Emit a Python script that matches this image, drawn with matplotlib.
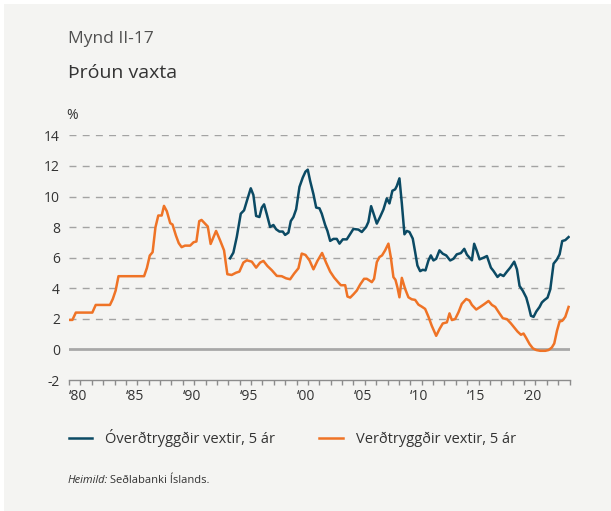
import matplotlib
matplotlib.use("Agg")
import matplotlib.pyplot as plt
from matplotlib.patches import Rectangle
from matplotlib.transforms import ScaledTranslation

plt.rcParams['font.family'] = ['Open Sans', 'DejaVu Sans']

# ---- data ----
verd_years = [1980.0, 1980.3, 1980.6, 1982.05, 1982.35, 1983.6, 1983.85, 1984.1, 1984.35, 1986.6,
              1986.85, 1987.1, 1987.35, 1987.6, 1987.85, 1988.15, 1988.35, 1988.6, 1988.9, 1989.1,
              1989.4, 1989.65, 1989.9, 1990.2, 1990.65, 1990.95, 1991.2, 1991.45, 1991.65, 1992.2,
              1992.45, 1992.93, 1993.28, 1993.63, 1993.92, 1994.3, 1994.69, 1994.98, 1995.33, 1995.63,
              1996.07, 1996.45, 1996.8, 1997.09, 1997.44, 1997.83, 1998.27, 1998.7, 1999.09, 1999.44,
              1999.79, 2000.17, 2000.46, 2000.79, 2001.14, 2001.49, 2001.84, 2002.25, 2002.6, 2002.96,
              2003.31, 2003.69, 2003.9, 2004.28, 2004.48, 2004.72, 2005.0, 2005.3, 2005.6, 2005.94,
              2006.18, 2006.41, 2006.62, 2006.82, 2007.06, 2007.29, 2007.52, 2007.79, 2008.08, 2008.29,
              2008.52, 2008.7, 2008.87, 2009.05, 2009.26, 2009.55, 2009.84, 2010.13, 2010.43, 2010.72,
              2011.01, 2011.31, 2011.6, 2011.89, 2012.28, 2012.57, 2012.86, 2013.22, 2013.45, 2013.66,
              2013.95, 2014.24, 2014.53, 2014.92, 2015.2, 2015.42, 2015.8, 2016.15, 2016.5, 2016.88,
              2017.18, 2017.47, 2017.85, 2018.14, 2018.5, 2018.85, 2019.14, 2019.43, 2019.73, 2019.96,
              2020.2, 2020.49, 2020.78, 2021.08, 2021.43, 2021.87, 2022.16, 2022.45, 2022.66, 2022.9,
              2023.13, 2023.36, 2023.63, 2023.92]
verd_values = [1.93, 1.93, 2.41, 2.41, 2.91, 2.91, 3.30, 3.85, 4.79, 4.79,
               5.33, 6.14, 6.36, 7.99, 8.76, 8.76, 9.39, 9.04, 8.26, 8.17,
               7.45, 6.95, 6.69, 6.79, 6.79, 7.01, 7.06, 8.39, 8.47, 8.04,
               6.90, 7.75, 7.14, 6.48, 4.92, 4.87, 5.02, 5.09, 5.68, 5.83,
               5.74, 5.35, 5.68, 5.79, 5.46, 5.18, 4.81, 4.79, 4.65, 4.59,
               4.96, 5.31, 6.27, 6.18, 5.83, 5.24, 5.79, 6.31, 5.68, 5.09,
               4.70, 4.37, 4.20, 4.20, 3.46, 3.39, 3.60, 3.85, 4.25, 4.62,
               4.62, 4.51, 4.40, 4.62, 5.71, 6.04, 6.15, 6.48, 6.92, 6.04,
               4.73, 4.55, 4.07, 3.41, 4.68, 3.96, 3.41, 3.28, 3.24, 2.93,
               2.80, 2.65, 2.14, 1.55, 0.89, 1.33, 1.70, 1.77, 2.36, 1.92,
               1.99, 2.43, 2.98, 3.30, 3.20, 2.91, 2.61, 2.78, 2.96, 3.17,
               2.91, 2.78, 2.35, 2.04, 1.98, 1.70, 1.43, 1.17, 0.96, 1.04,
               0.74, 0.35, 0.07, -0.04, -0.09, -0.09, -0.04, 0.13, 0.39, 1.22,
               1.83, 1.87, 2.13, 2.78]

over_years = [1994.16, 1994.45, 1994.75, 1995.1, 1995.39, 1995.68, 1995.98, 1996.21, 1996.45, 1996.74,
              1996.95, 1997.15, 1997.39, 1997.68, 1997.97, 1998.21, 1998.5, 1998.79, 1999.0, 1999.29,
              1999.5, 1999.73, 1999.97, 2000.26, 2000.55, 2000.79, 2000.99, 2001.2, 2001.49, 2001.73,
              2002.02, 2002.22, 2002.52, 2002.72, 2002.96, 2003.25, 2003.54, 2003.78, 2004.07, 2004.42,
              2004.72, 2005.0, 2005.44, 2005.74, 2006.12, 2006.32, 2006.56, 2006.82, 2007.06, 2007.35,
              2007.64, 2007.94, 2008.17, 2008.43, 2008.67, 2008.82, 2009.05, 2009.26, 2009.49, 2009.7,
              2009.93, 2010.22, 2010.43, 2010.63, 2010.87, 2011.1, 2011.34, 2011.6, 2011.81, 2012.04,
              2012.28, 2012.57, 2012.86, 2013.16, 2013.51, 2013.8, 2014.09, 2014.45, 2014.75, 2014.98,
              2015.21, 2015.42, 2015.62, 2015.86, 2016.09, 2016.44, 2016.74, 2017.09, 2017.32, 2017.67,
              2017.91, 2018.2, 2018.5, 2018.79, 2019.14, 2019.38, 2019.61, 2019.9, 2020.2, 2020.4,
              2020.61, 2020.84, 2021.08, 2021.37, 2021.57, 2021.78, 2022.07, 2022.31, 2022.6, 2022.9,
              2023.13, 2023.36, 2023.63, 2023.92]
over_values = [5.96, 6.33, 7.36, 8.88, 9.10, 9.82, 10.54, 10.10, 8.73, 8.66,
               9.28, 9.49, 8.84, 8.01, 8.14, 7.86, 7.71, 7.71, 7.49, 7.64,
               8.40, 8.66, 9.17, 10.63, 11.24, 11.63, 11.76, 11.02, 10.15, 9.28,
               9.23, 8.88, 8.14, 7.75, 7.10, 7.23, 7.23, 6.92, 7.20, 7.20,
               7.55, 7.88, 7.84, 7.68, 8.01, 8.34, 9.37, 8.78, 8.23, 8.67,
               9.15, 9.88, 9.55, 10.38, 10.47, 10.69, 11.19, 9.55, 7.53, 7.75,
               7.68, 7.25, 6.37, 5.49, 5.12, 5.21, 5.17, 5.82, 6.15, 5.82,
               5.93, 6.48, 6.26, 6.15, 5.82, 5.93, 6.22, 6.30, 6.58, 6.20,
               6.00, 5.83, 6.91, 6.43, 5.89, 6.00, 6.11, 5.35, 5.13, 4.74,
               4.91, 4.80, 5.09, 5.35, 5.74, 5.24, 4.15, 3.83, 3.39, 2.85,
               2.20, 2.13, 2.48, 2.78, 3.07, 3.22, 3.39, 3.93, 5.61, 5.89,
               6.22, 7.09, 7.15, 7.35]

series_labels = ["Óverðtryggðir vextir, 5 ár", "Verðtryggðir vextir, 5 ár"]
y_ticks = [-2, 0, 2, 4, 6, 8, 10, 12, 14]
x_label_years = [1980, 1985, 1990, 1995, 2000, 2005, 2010, 2015, 2020]
x_tick_labels = ["\u201880", "\u201885", "\u201890", "\u201895", "\u201800",
                 "\u201805", "\u201810", "\u201815", "\u201820"]

# ---- figure ----
W, H = 611, 511
fig = plt.figure(figsize=(W / 100, H / 100), dpi=100)
fig.patch.set_facecolor("white")
bg = "#f4f4f2"
fig.patches.append(Rectangle((4 / W, 0), 1 - 4 / W, 1 - 4 / H, transform=fig.transFigure,
                             facecolor=bg, edgecolor="none", zorder=-10))

ax = fig.add_axes([69 / W, (H - 380) / H, (569.5 - 69) / W, (380 - 135.4) / H])
ax.set_facecolor(bg)
ax.patch.set_alpha(0)

blue = "#0b4a64"
orange = "#ef7326"
grid_c = "#a3a3a3"

for y in y_ticks:
    if y > 0:
        ax.axhline(y, color=grid_c, lw=1.0, ls=(0, (5, 4.5)), zorder=1)
ax.axhline(0, color="#a8a8a8", lw=2.0, zorder=1)

l1, = ax.plot(over_years, over_values, color=blue, lw=1.8, zorder=3, label=series_labels[0],
              solid_joinstyle="round")
l2, = ax.plot(verd_years, verd_values, color=orange, lw=1.8, zorder=3, label=series_labels[1],
              solid_joinstyle="round")

ax.set_xlim(1980, 2024)
ax.set_ylim(-2, 14)

for s in ["top", "right", "left"]:
    ax.spines[s].set_visible(False)
ax.spines["bottom"].set_color("#8c8c8c")
ax.spines["bottom"].set_linewidth(1.0)

all_years = list(range(1980, 2025))
ax.set_xticks(all_years)
lbl_map = dict(zip(x_label_years, x_tick_labels))
ax.set_xticklabels([lbl_map.get(y, "") for y in all_years])
shift = ScaledTranslation(-2 / 100, 0, fig.dpi_scale_trans)
for t in ax.get_xticklabels():
    t.set_ha("left")
    t.set_transform(t.get_transform() + shift)
ax.tick_params(axis="x", length=3.5, width=1.0, color="#8c8c8c", pad=3,
               labelsize=10, labelcolor="#333333", direction="out")
ax.set_yticks(y_ticks)
ax.set_yticklabels([str(v) for v in y_ticks])
ax.tick_params(axis="y", length=0, pad=6.5, labelsize=10, labelcolor="#333333")

# ---- texts ----
fig.text(68 / W, (H - 43) / H, "Mynd II-17", fontsize=12.5, color="#505050",
         ha="left", va="baseline")
fig.text(68 / W, (H - 78) / H, "Þróun vaxta", fontsize=14, color="#333333",
         ha="left", va="baseline")
fig.text(66 / W, (H - 115.5) / H, "%", fontsize=10, color="#333333", ha="left", va="center")

fig.legend(handles=[l1, l2], labels=series_labels, loc="center left",
           bbox_to_anchor=(69 / W, (H - 438) / H), ncol=2, frameon=False,
           fontsize=10.5, handlelength=1.6, handletextpad=0.9, columnspacing=3.0,
           borderpad=0, borderaxespad=0, labelcolor="#333333")

t1 = fig.text(68 / W, (H - 480) / H, "Heimild:", fontsize=8, style="italic",
              color="#333333", ha="left", va="center")
fig.canvas.draw()
bb = t1.get_window_extent(fig.canvas.get_renderer())
fig.text(bb.x1 / W + 2 / W, (H - 480) / H, "Seðlabanki Íslands.", fontsize=8,
         color="#333333", ha="left", va="center")

fig.savefig("out.png", dpi=100, facecolor=fig.get_facecolor())
